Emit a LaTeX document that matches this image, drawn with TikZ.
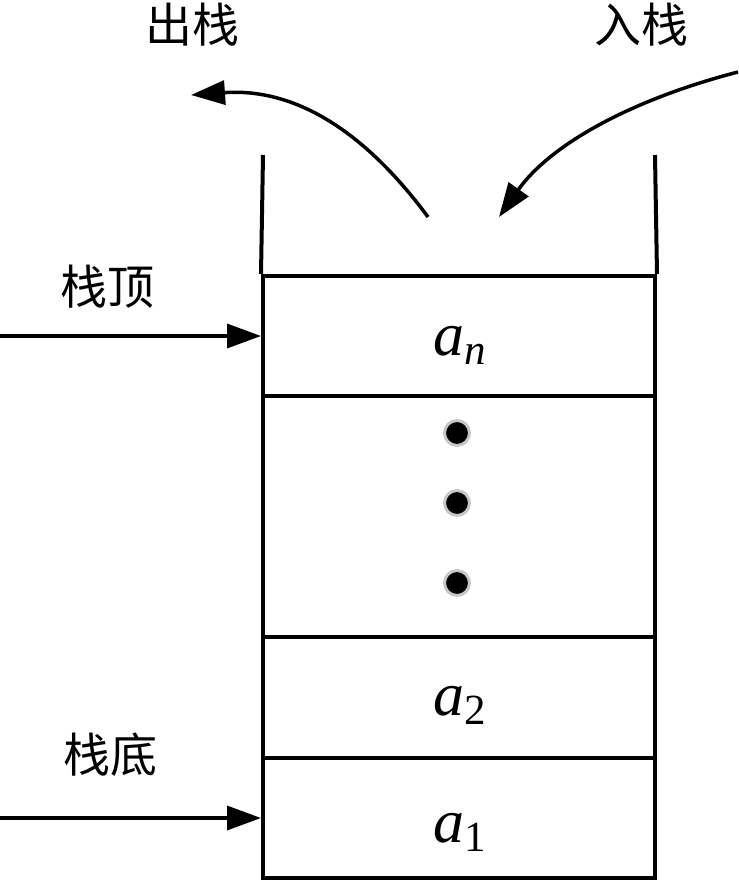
\documentclass[tikz,border=0pt]{standalone}
\usepackage{fontspec}
\setmainfont{Liberation Serif}
\newfontfamily\cjk{Noto Sans CJK SC}
\usetikzlibrary{arrows.meta}
\begin{document}
\begin{tikzpicture}[x=1pt,y=-1pt,
  wall/.style={line width=4pt},
  cell/.style={draw,line width=4pt,minimum width=392pt,inner sep=0pt},
  mtxt/.style={anchor=base,inner sep=0pt,font=\fontsize{62}{62}\selectfont\itshape},
  lbl/.style={font=\cjk\fontsize{47}{47}\selectfont,inner sep=0pt},
  arr/.style={line width=3.5pt,-{Triangle[length=34pt,width=24pt]}},
  dotc/.style={circle,fill=black,draw=black!22,line width=3pt,minimum size=25pt,inner sep=0pt}]
\useasboundingbox (0,0) rectangle (739,881);
\node[cell,minimum height=120pt] (an) at (459,336) {};
\node[cell,minimum height=241pt] (dots) at (459,516.5) {};
\node[cell,minimum height=121pt] (a2) at (459,697.5) {};
\node[cell,minimum height=120pt] (a1) at (459,818) {};
\node[mtxt] (tan) at (460,355) {a\raisebox{-0.35ex}{\fontsize{43}{43}\selectfont n}};
\node[mtxt] (ta2) at (460,715) {a\raisebox{-0.35ex}{\fontsize{43}{43}\selectfont\upshape 2}};
\node[mtxt] (ta1) at (460,842) {a\raisebox{-0.35ex}{\fontsize{43}{43}\selectfont\upshape 1}};
\coordinate (lt) at (263,155);
\coordinate (rt) at (655,155);
\draw[wall] (lt) -- (an.north west);
\draw[wall] (rt) -- (an.north east);
\node[dotc] (d1) at (457,433) {};
\node[dotc] (d2) at (457,503) {};
\node[dotc] (d3) at (457,583) {};
\coordinate (topsrc) at (0,336);
\coordinate (botsrc) at (0,818);
\draw[arr] (topsrc) -- (an.west);
\draw[arr] (botsrc) -- (a1.west);
\node[lbl] (ttop) at (107,287) {栈顶};
\node[lbl] (tbot) at (110,755) {栈底};
\node[lbl] (tpop) at (192,25) {出栈};
\node[lbl] (tpush) at (641,25) {入栈};
\coordinate (popstart) at (428,217);
\coordinate (popend) at (191,95);
\coordinate (pushstart) at (738,72);
\coordinate (pushend) at (499,217);
\draw[arr] (popstart) .. controls (360,125) and (290,88) .. (popend);
\draw[arr] (pushstart) .. controls (630,100) and (550,145) .. (pushend);
\end{tikzpicture}
\end{document}
